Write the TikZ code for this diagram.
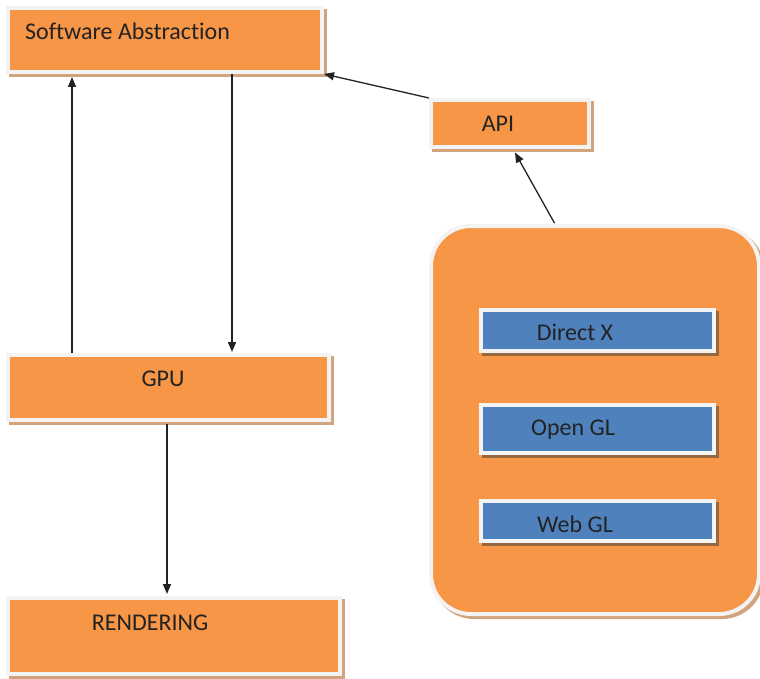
\documentclass[tikz,border=0pt]{standalone}
\usepackage{fontspec}
\setmainfont{Carlito}[Ligatures=NoCommon]
\usetikzlibrary{arrows.meta}

\definecolor{boxorange}{HTML}{F79646}
\definecolor{boxblue}{HTML}{4F81BD}
\definecolor{rim}{HTML}{F3F3F3}
\definecolor{shadowtan}{HTML}{D1A47E}
\definecolor{shadowdark}{HTML}{95683F}
\definecolor{ink}{HTML}{222222}

\begin{document}
\begin{tikzpicture}[x=1pt, y=-1pt,
  panel/.style={rectangle, inner sep=0pt, draw=rim, line width=4pt, fill=#1},
  castshadow/.style={preaction={fill=#1, draw=#1, line width=4pt,
      transform canvas={shift={(3pt,-3pt)}}}},
  orangebox/.style={panel=boxorange, castshadow=shadowtan},
  bluebox/.style={panel=boxblue, castshadow=shadowdark},
  lbl/.style={inner sep=0pt, text=ink, font=\fontsize{24}{28}\selectfont},
  arr/.style={draw=ink, line width=1.3pt, -{Triangle[length=10pt, width=8pt]}}
]
\useasboundingbox (0,0) rectangle (760,679);

% main blocks
\node[orangebox, minimum width=314pt, minimum height=64pt] (sw) at (165,40) {};
\node[orangebox, minimum width=158pt, minimum height=47pt] (api) at (510,123.5) {};
\node[orangebox, minimum width=321pt, minimum height=65pt] (gpu) at (168.5,387.5) {};
\node[orangebox, minimum width=332pt, minimum height=76pt] (rend) at (174,636) {};

% container of the graphics APIs
\node[orangebox, rounded corners=40pt, minimum width=328pt, minimum height=388pt] (cont) at (595,420) {};
\node[bluebox, minimum width=233pt, minimum height=41pt] (dx) at (597.5,330.5) {};
\node[bluebox, minimum width=233pt, minimum height=48pt] (ogl) at (597.5,429) {};
\node[bluebox, minimum width=233pt, minimum height=40pt] (wgl) at (597.5,521) {};

% labels
\node[lbl, anchor=west] (swt) at (25,31) {Software Abstraction};
\node[lbl] (apit) at (498,124) {API};
\node[lbl] (gput) at (163,379) {GPU};
\node[lbl] (rendt) at (150,623) {RENDERING};
\node[lbl] (dxt) at (575,332) {Direct X};
\node[lbl] (oglt) at (573,430) {Open GL};
\node[lbl] (wglt) at (575,524) {Web GL};

% connector columns
\coordinate (upx) at (72,0);
\coordinate (downx) at (232,0);
\coordinate (rendx) at (167,0);
\coordinate (contx) at (555,0);
\coordinate (apix) at (513,0);

% connectors
\draw[arr, shorten >=3pt] (gpu.north -| upx) -- (sw.south -| upx);
\draw[arr, shorten >=1pt] (sw.south -| downx) -- (gpu.north -| downx);
\draw[arr, shorten <=2pt, shorten >=2pt] (gpu.south -| rendx) -- (rend.north -| rendx);
\draw[arr] (api.north west) -- (sw.south east);
\draw[arr, shorten <=1pt, shorten >=4pt] (cont.north -| contx) -- (api.south -| apix);
\end{tikzpicture}
\end{document}
